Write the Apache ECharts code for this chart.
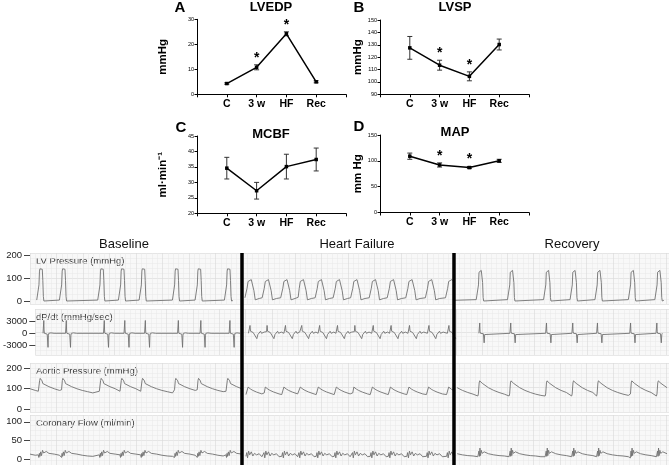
<!DOCTYPE html>
<html>
<head>
<meta charset="utf-8">
<script src="https://cdn.jsdelivr.net/npm/echarts@6/dist/echarts.min.js"></script>
<style>
html, body { margin: 0; padding: 0; background: #fff; }
#main { width: 669px; height: 465px; }
</style>
</head>
<body>
<div id="main"></div>
<script>
// 上面四个小图的数据 (均值 ± 误差)
const categories = ['C', '3 w', 'HF', 'Rec']
const lvedpMean = [4.3, 10.8, 24.2, 5.0]
const lvedpErr = [0.3, 1.0, 0.8, 0.4]
const lvedpSig = [false, true, true, false]
const lvspMean = [127.5, 113.5, 104.5, 130.2]
const lvspErr = [9.2, 4.0, 3.6, 4.4]
const lvspSig = [false, true, true, false]
const mcbfMean = [34.6, 27.3, 35.1, 37.4]
const mcbfErr = [3.5, 2.7, 4.0, 3.7]
const mcbfSig = [false, false, false, false]
const mapMean = [109, 92, 87, 100]
const mapErr = [6, 4, 2, 3]
const mapSig = [false, true, true, false]

// 下方记录纸: 每段的心跳起始时间 (秒)
const sections = [[0, 4], [4, 8], [8, 12.057]]
const baseOnsets = [-0.3, 0.157, 0.585, 1.308, 1.698, 2.089, 2.717, 3.145, 3.698]
const hfOnsets = [3.698, 4.075, 4.40, 4.75, 5.06, 5.40, 5.74, 6.07, 6.42, 6.76, 7.11, 7.48, 7.86]
const recOnsets = [7.86, 8.45, 9.04, 9.72, 10.22, 10.69, 11.32, 11.82]

// 单个心跳的波形 [相对时间, 数值]
const lvBaseBeat = [[-0.03, 4], [0, 7], [0.012, 70], [0.022, 130], [0.03, 140], [0.06, 141], [0.075, 138], [0.085, 90], [0.095, 20], [0.105, 0], [0.13, 2]]
const lvHfBeat = [[-0.02, 14], [0, 16], [0.02, 55], [0.04, 85], [0.06, 92], [0.1, 93], [0.12, 88], [0.15, 45], [0.175, 5], [0.19, 2], [0.21, 8], [0.25, 11], [0.28, 12]]
const lvRecBeat = [[-0.03, 6], [0, 9], [0.012, 70], [0.022, 125], [0.03, 132], [0.065, 133], [0.08, 128], [0.09, 80], [0.1, 15], [0.11, 0], [0.14, 3]]

const dpBaseBeat = [[-0.01, 0], [0, 300], [0.005, 3100], [0.01, 800], [0.015, 0], [0.07, -200], [0.085, -3400], [0.092, -600], [0.1, 0], [0.14, 100], [0.2, 0]]
const dpHfBeat = [[-0.02, 0], [0, 400], [0.01, 1900], [0.02, 500], [0.04, 300], [0.07, 200], [0.1, -100], [0.14, -1300], [0.16, -300], [0.19, 0], [0.21, 500], [0.23, 0], [0.28, 300]]
const dpRecBeat = [[-0.01, 0], [0, 200], [0.006, 2500], [0.012, 500], [0.02, 0], [0.075, -100], [0.09, -2300], [0.1, -300], [0.11, 0]]

const aoBaseBeat = [[0, 88], [0.01, 95], [0.025, 140], [0.035, 150], [0.05, 145], [0.07, 138], [0.085, 125], [0.095, 130], [0.12, 124], [0.2, 110], [0.3, 100], [0.4, 92], [0.5, 86], [0.6, 80]]
const aoHfBeat = [[0, 72], [0.02, 80], [0.04, 108], [0.055, 112], [0.07, 104], [0.09, 98], [0.1, 100], [0.13, 92], [0.2, 84], [0.3, 75], [0.4, 70]]
const aoRecBeat = [[0, 65], [0.01, 75], [0.025, 128], [0.035, 138], [0.05, 133], [0.07, 132], [0.085, 126], [0.1, 124], [0.2, 105], [0.3, 92], [0.4, 82], [0.5, 74], [0.6, 68], [0.7, 64]]

const cfBaseBeat = [[0, 12], [0.01, 5], [0.02, 16], [0.03, 8], [0.045, 20], [0.06, 10], [0.08, 24], [0.1, 17], [0.15, 21], [0.2, 16], [0.3, 14], [0.4, 11], [0.5, 9], [0.6, 8]]
const cfHfBeat = [[0, 8], [0.015, 18], [0.03, 4], [0.05, 22], [0.07, 12], [0.1, 20], [0.13, 9], [0.16, 16], [0.2, 12], [0.25, 15], [0.3, 7]]
const cfRecBeat = [[0, 7], [0.01, 4], [0.02, 22], [0.03, 8], [0.04, 30], [0.05, 10], [0.065, 24], [0.08, 16], [0.12, 20], [0.2, 15], [0.3, 12], [0.4, 10], [0.5, 9], [0.6, 7]]

// 把心跳模板拼成一段曲线
function buildTrace (onsets, beat, start, end) {
  const pts = []
  onsets.forEach((t0, i) => {
    const nextStart = i < onsets.length - 1 ? onsets[i + 1] + beat[0][0] : Infinity
    beat.forEach(p => {
      const t = t0 + p[0]
      if (t < nextStart && t >= start && t <= end) pts.push([t, p[1]])
    })
  })
  return pts
}

const chart = echarts.init(document.getElementById('main'))
const FONT = 'Liberation Sans, Arial, sans-serif'
const NARROW = 'Liberation Sans Narrow, Liberation Sans, Arial, sans-serif'

// 小图布局
const topGrids = [
  { left: 197, top: 19.3, width: 149, height: 75 },
  { left: 380, top: 20, width: 149, height: 74.3 },
  { left: 197, top: 136, width: 149, height: 77.3 },
  { left: 380, top: 135, width: 149, height: 77.5 }
]
const topY = [
  { min: 0, max: 30, interval: 10, name: 'mmHg', nameGap: 28 },
  { min: 90, max: 150, interval: 10, name: 'mmHg', nameGap: 16 },
  { min: 20, max: 45, interval: 5, name: 'ml·min⁻¹', nameGap: 28 },
  { min: 0, max: 150, interval: 50, name: 'mm Hg', nameGap: 16 }
]
const topData = [
  [lvedpMean, lvedpErr, lvedpSig],
  [lvspMean, lvspErr, lvspSig],
  [mcbfMean, mcbfErr, mcbfSig],
  [mapMean, mapErr, mapSig]
]

// 记录纸布局
const strips = [
  { top: 253, height: 51, min: -13, max: 208.7, ticks: [0, 100, 200], label: 'LV Pressure (mmHg)', beats: [lvBaseBeat, lvHfBeat, lvRecBeat] },
  { top: 309, height: 46, min: -5250, max: 5880, ticks: [-3000, 0, 3000], label: 'dP/dt (mmHg/sec)', beats: [dpBaseBeat, dpHfBeat, dpRecBeat] },
  { top: 363, height: 49, min: -12, max: 224, ticks: [0, 100, 200], label: 'Aortic Pressure (mmHg)', beats: [aoBaseBeat, aoHfBeat, aoRecBeat] },
  { top: 415, height: 50, min: -15, max: 118, ticks: [0, 50, 100], label: 'Coronary Flow (ml/min)', beats: [cfBaseBeat, cfHfBeat, cfRecBeat] }
]
const onsetsList = [baseOnsets, hfOnsets, recOnsets]

const grid = []
const xAxis = []
const yAxis = []
const series = []
const graphic = []

topGrids.forEach((g, i) => {
  grid.push(g)
  xAxis.push({
    gridIndex: i, type: 'value', min: 0, max: 5, interval: 1,
    axisLine: { lineStyle: { color: '#000', width: 1 } },
    axisTick: { length: 3, lineStyle: { color: '#000' } },
    splitLine: { show: false },
    axisLabel: {
      margin: 4, color: '#000', fontSize: 10.5, fontWeight: 'bold', fontFamily: FONT,
      formatter: v => categories[v - 1] || ''
    }
  })
  yAxis.push({
    gridIndex: i, type: 'value', min: topY[i].min, max: topY[i].max, interval: topY[i].interval,
    name: topY[i].name, nameLocation: 'middle', nameGap: topY[i].nameGap, nameRotate: 90,
    nameTextStyle: { color: '#000', fontSize: 11.5, fontWeight: 'bold', fontFamily: FONT },
    axisLine: { show: true, lineStyle: { color: '#000', width: 1 } },
    axisTick: { show: true, length: 2.5, lineStyle: { color: '#000' } },
    splitLine: { show: false },
    axisLabel: { margin: 3, color: '#000', fontSize: 5.5, fontFamily: FONT }
  })
  const [mean, err, sig] = topData[i]
  series.push({
    type: 'custom', xAxisIndex: i, yAxisIndex: i, silent: true, animation: false,
    data: mean.map((m, k) => [k + 1, m - err[k], m + err[k], sig[k] ? 1 : 0]),
    renderItem (params, api) {
      const x = api.value(0)
      const lo = api.coord([x, api.value(1)])
      const hi = api.coord([x, api.value(2)])
      const c = '#333'
      const children = [
        { type: 'line', shape: { x1: lo[0], y1: lo[1], x2: hi[0], y2: hi[1] }, style: { stroke: c, lineWidth: 1 } },
        { type: 'line', shape: { x1: lo[0] - 2.5, y1: lo[1], x2: lo[0] + 2.5, y2: lo[1] }, style: { stroke: c, lineWidth: 1 } },
        { type: 'line', shape: { x1: hi[0] - 2.5, y1: hi[1], x2: hi[0] + 2.5, y2: hi[1] }, style: { stroke: c, lineWidth: 1 } }
      ]
      if (api.value(3)) {
        children.push({
          type: 'text',
          style: { text: '*', x: hi[0], y: hi[1] - 7, align: 'center', verticalAlign: 'middle', fill: '#000', font: 'bold 14px ' + FONT }
        })
      }
      return { type: 'group', children }
    }
  })
  series.push({
    type: 'line', xAxisIndex: i, yAxisIndex: i, animation: false, silent: true,
    data: mean.map((m, k) => [k + 1, m]),
    symbol: 'rect', symbolSize: 3.5, z: 5,
    itemStyle: { color: '#000' },
    lineStyle: { color: '#000', width: 1.5 }
  })
})

strips.forEach((s, j) => {
  const gi = 4 + j
  grid.push({ left: 30, width: 639, top: s.top, height: s.height, show: true, backgroundColor: '#f8f8f8', borderWidth: 0 })
  xAxis.push({
    gridIndex: gi, type: 'value', min: 0, max: 12.057, interval: 0.5,
    axisLine: { show: false }, axisTick: { show: false }, axisLabel: { show: false },
    splitLine: { show: true, lineStyle: { color: '#d8d8d8', width: 0.6 } },
    minorTick: { show: false, splitNumber: 5 },
    minorSplitLine: { show: true, lineStyle: { color: '#e9e9e9', width: 0.5 } }
  })
})
strips.forEach((s, j) => {
  yAxis.push({
    gridIndex: 4 + j, type: 'value', min: s.min, max: s.max,
    axisLine: { show: false },
    axisTick: { show: true, length: 6, customValues: s.ticks, lineStyle: { color: '#444' } },
    axisLabel: { customValues: s.ticks, margin: 8, color: '#222', fontSize: 9.5, fontFamily: FONT, formatter: v => String(v) },
    splitLine: { show: false }
  })
})
strips.forEach((s, j) => {
  yAxis.push({
    gridIndex: 4 + j, type: 'value', min: 0, max: 10, interval: 5, position: 'right',
    axisLine: { show: false }, axisTick: { show: false }, axisLabel: { show: false },
    splitLine: { show: true, lineStyle: { color: '#d8d8d8', width: 0.6 } },
    minorTick: { show: false, splitNumber: 5 },
    minorSplitLine: { show: true, lineStyle: { color: '#e9e9e9', width: 0.5 } }
  })
})
strips.forEach((s, j) => {
  onsetsList.forEach((ons, k) => {
    series.push({
      type: 'line', xAxisIndex: 4 + j, yAxisIndex: 4 + j, animation: false, silent: true,
      data: buildTrace(ons, s.beats[k], sections[k][0], sections[k][1]),
      showSymbol: false, symbol: 'none',
      lineStyle: { color: '#707070', width: 0.9 }
    })
  })
  graphic.push({
    type: 'text', left: 36, top: s.top + 3,
    style: { text: s.label, fill: '#333', font: '9.5px ' + NARROW }
  })
})

// 标题 / 字母
const titles = [['LVEDP', 271, 7], ['LVSP', 455, 7], ['MCBF', 271, 134], ['MAP', 455, 132]]
titles.forEach(t => {
  graphic.push({ type: 'text', x: t[1], y: t[2], style: { text: t[0], align: 'center', verticalAlign: 'middle', fill: '#000', font: 'bold 13px ' + FONT } })
})
const letters = [['A', 180, 8], ['B', 359, 8], ['C', 181, 128], ['D', 359, 127]]
letters.forEach(t => {
  graphic.push({ type: 'text', x: t[1], y: t[2], style: { text: t[0], align: 'center', verticalAlign: 'middle', fill: '#000', font: 'bold 15px ' + FONT } })
})
const headers = [['Baseline', 124, 244], ['Heart Failure', 357, 244], ['Recovery', 572, 244]]
headers.forEach(t => {
  graphic.push({ type: 'text', x: t[1], y: t[2], style: { text: t[0], align: 'center', verticalAlign: 'middle', fill: '#111', font: '13px ' + FONT } })
})

chart.setOption({
  animation: false,
  textStyle: { fontFamily: FONT },
  grid, xAxis, yAxis, series, graphic
})

// 分段粗黑线
const bars = [4, 8].map(t => chart.convertToPixel({ gridIndex: 4 }, [t, 0])[0])
chart.setOption({
  graphic: graphic.concat(bars.map(x => ({
    type: 'line', z: 100,
    shape: { x1: x, y1: strips[0].top, x2: x, y2: 465 },
    style: { stroke: '#000', lineWidth: 3.5 }
  })))
})
</script>
</body>
</html>
